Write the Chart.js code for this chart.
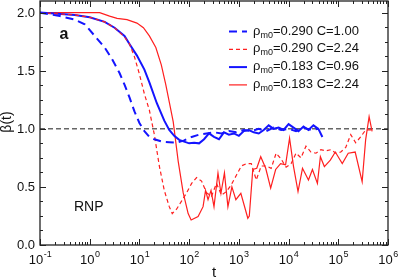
<!DOCTYPE html>
<html>
<head>
<meta charset="utf-8">
<script src="https://cdn.jsdelivr.net/npm/chart.js@4.4.1/dist/chart.umd.min.js"></script>
<style>
  html, body { margin: 0; padding: 0; background: #fff; }
</style>
</head>
<body>
<canvas id="betaChart" width="399" height="278"></canvas>
<script>
// log10(t) positions and beta(t) values
const logTBlueDash = [-1, -0.6, -0.3, -0.1, 0.1, 0.3, 0.45, 0.6, 0.7, 0.8, 0.9, 1.0, 1.1, 1.2, 1.3, 1.45, 1.6, 1.75, 1.9, 2.05, 2.2, 2.35, 2.5, 2.65, 2.8, 2.95, 3.1, 3.25, 3.4, 3.55, 3.7, 3.85, 4.0, 4.15, 4.3, 4.45, 4.6];
const betaBlueDash = [2.0, 1.97, 1.94, 1.90, 1.80, 1.70, 1.60, 1.48, 1.38, 1.27, 1.15, 1.05, 0.98, 0.93, 0.91, 0.89, 0.885, 0.88, 0.90, 0.93, 0.95, 0.96, 0.97, 0.96, 0.98, 0.97, 0.99, 0.98, 1.00, 0.98, 1.01, 0.99, 1.00, 0.98, 1.01, 0.99, 1.00];

const logTRedDash = [-1, -0.3, 0, 0.3, 0.5, 0.7, 0.8, 0.9, 1.0, 1.1, 1.2, 1.3, 1.4, 1.5, 1.6, 1.66, 1.75, 1.85, 1.95, 2.05, 2.15, 2.25, 2.35, 2.45, 2.55, 2.65, 2.75, 2.85, 2.95, 3.05, 3.15, 3.25, 3.35, 3.45, 3.55, 3.65, 3.75, 3.85, 3.95, 4.05, 4.15, 4.25, 4.35, 4.45, 4.55, 4.65, 4.75, 4.85, 4.95, 5.05, 5.15, 5.25, 5.35, 5.45, 5.55, 5.68];
const betaRedDash = [2.0, 1.98, 1.96, 1.92, 1.87, 1.79, 1.73, 1.62, 1.47, 1.30, 1.16, 0.95, 0.68, 0.47, 0.33, 0.27, 0.31, 0.38, 0.45, 0.53, 0.58, 0.55, 0.45, 0.42, 0.53, 0.43, 0.46, 0.52, 0.60, 0.68, 0.70, 0.70, 0.56, 0.68, 0.68, 0.66, 0.79, 0.74, 0.67, 0.70, 0.79, 0.75, 0.85, 0.80, 0.79, 0.82, 0.81, 0.82, 0.79, 0.80, 0.84, 0.95, 0.88, 0.93, 0.99, 0.99];

const logTBlueSolid = [-1, -0.3, 0, 0.3, 0.5, 0.7, 0.8, 0.95, 1.1, 1.2, 1.35, 1.5, 1.6, 1.7, 1.8, 1.9, 2.0, 2.1, 2.2, 2.3, 2.4, 2.5, 2.6, 2.7, 2.8, 2.9, 3.0, 3.1, 3.2, 3.3, 3.4, 3.5, 3.6, 3.7, 3.8, 3.9, 4.0, 4.1, 4.2, 4.3, 4.4, 4.5, 4.6, 4.68];
const betaBlueSolid = [2.0, 1.98, 1.96, 1.92, 1.87, 1.80, 1.73, 1.63, 1.51, 1.40, 1.22, 1.07, 0.99, 0.94, 0.905, 0.89, 0.875, 0.88, 0.875, 0.91, 0.96, 0.93, 0.91, 0.97, 0.95, 0.96, 0.94, 0.98, 0.99, 0.97, 0.96, 0.99, 1.03, 1.00, 1.01, 0.99, 1.04, 1.01, 0.98, 1.02, 0.99, 1.03, 1.00, 0.93];

const logTRedSolid = [-1, 0, 0.2, 0.4, 0.55, 0.75, 0.95, 1.08, 1.2, 1.33, 1.44, 1.53, 1.61, 1.68, 1.78, 1.88, 1.98, 2.04, 2.18, 2.28, 2.33, 2.38, 2.44, 2.5, 2.58, 2.64, 2.71, 2.78, 2.86, 2.94, 3.04, 3.18, 3.21, 3.28, 3.36, 3.44, 3.54, 3.64, 3.74, 3.84, 3.94, 4.02, 4.1, 4.19, 4.28, 4.4, 4.48, 4.58, 4.64, 4.72, 4.84, 4.94, 5.08, 5.2, 5.34, 5.48, 5.55, 5.62, 5.68];
const betaRedSolid = [2.0, 2.0, 2.0, 1.97, 1.95, 1.94, 1.91, 1.87, 1.80, 1.70, 1.55, 1.38, 1.21, 1.06, 0.72, 0.45, 0.27, 0.215, 0.245, 0.33, 0.47, 0.39, 0.47, 0.33, 0.62, 0.445, 0.62, 0.33, 0.50, 0.39, 0.445, 0.23, 0.25, 0.65, 0.66, 0.76, 0.66, 0.49, 0.65, 0.70, 0.69, 0.92, 0.675, 0.46, 0.66, 0.56, 0.65, 0.53, 0.76, 0.675, 0.73, 0.80, 0.70, 0.79, 0.80, 0.545, 0.905, 1.105, 0.977];

const refLineT = [0.1, 1e6];
const refLineBeta = [1, 1];

const xTickExps = [-1, 0, 1, 2, 3, 4, 5, 6];
const yTicks = [0, 0.5, 1, 1.5, 2];
const legendRest = ['=0.290 C=1.00', '=0.290 C=2.24', '=0.183 C=0.96', '=0.183 C=2.24'];

const FONT = "'Liberation Sans', Arial, Helvetica, sans-serif";

function toPoints(logT, beta) {
    return logT.map((lt, i) => ({ x: Math.pow(10, lt), y: beta[i] }));
}

const series = [
    { data: toPoints(logTBlueDash, betaBlueDash), color: '#1414ff', width: 2, dash: [8, 5] },
    { data: toPoints(logTRedDash, betaRedDash), color: '#ff1f1f', width: 1.2, dash: [4, 3] },
    { data: toPoints(logTBlueSolid, betaBlueSolid), color: '#1414ff', width: 2, dash: [] },
    { data: toPoints(logTRedSolid, betaRedSolid), color: '#ff1f1f', width: 1.2, dash: [] }
];

const datasets = series.map((s, i) => ({
    label: 'series' + i,
    data: s.data,
    borderColor: s.color,
    borderWidth: s.width,
    borderDash: s.dash,
    pointRadius: 0,
    fill: false,
    tension: 0,
    order: 1
}));

datasets.push({
    label: 'ref',
    data: refLineT.map((t, i) => ({ x: t, y: refLineBeta[i] })),
    borderColor: '#666666',
    borderWidth: 1.5,
    borderDash: [5, 3],
    pointRadius: 0,
    fill: false,
    order: 10
});

// frame, inward ticks, tick labels, legend and annotations
const decorPlugin = {
    id: 'decor',
    afterDatasetsDraw(chart) {
        const { ctx, chartArea: a, scales } = chart;
        const xs = scales.x, ys = scales.y;
        ctx.save();
        ctx.strokeStyle = '#222';
        ctx.lineWidth = 1.3;
        ctx.setLineDash([]);
        ctx.strokeRect(a.left, a.top, a.right - a.left, a.bottom - a.top);

        ctx.lineWidth = 1;
        ctx.beginPath();
        xTickExps.forEach(e => {
            const px = Math.round(xs.getPixelForValue(Math.pow(10, e))) + 0.5;
            ctx.moveTo(px, a.bottom); ctx.lineTo(px, a.bottom - 6);
            ctx.moveTo(px, a.top); ctx.lineTo(px, a.top + 6);
            if (e < 6) {
                for (let k = 2; k <= 9; k++) {
                    const mx = Math.round(xs.getPixelForValue(k * Math.pow(10, e))) + 0.5;
                    ctx.moveTo(mx, a.bottom); ctx.lineTo(mx, a.bottom - 3);
                    ctx.moveTo(mx, a.top); ctx.lineTo(mx, a.top + 3);
                }
            }
        });
        for (let v = 0; v <= 2.1; v += 0.125) {
            const py = Math.round(ys.getPixelForValue(v)) + 0.5;
            const major = Math.abs(v * 2 - Math.round(v * 2)) < 1e-6;
            const len = major ? 6 : 3;
            ctx.moveTo(a.left, py); ctx.lineTo(a.left + len, py);
            ctx.moveTo(a.right, py); ctx.lineTo(a.right - len, py);
        }
        ctx.stroke();

        ctx.fillStyle = '#111';
        ctx.font = '13px ' + FONT;
        ctx.textAlign = 'right';
        ctx.textBaseline = 'middle';
        yTicks.forEach(v => {
            ctx.fillText(v.toFixed(1), a.left - 5, ys.getPixelForValue(v) + 0.5);
        });

        ctx.textBaseline = 'alphabetic';
        ctx.textAlign = 'left';
        xTickExps.forEach(e => {
            const px = xs.getPixelForValue(Math.pow(10, e));
            ctx.font = '13px ' + FONT;
            const w1 = ctx.measureText('10').width;
            ctx.font = '9px ' + FONT;
            const w2 = ctx.measureText(String(e)).width;
            const x0 = px - (w1 + w2) / 2;
            ctx.font = '13px ' + FONT;
            ctx.fillText('10', x0, a.bottom + 18.5);
            ctx.font = '9px ' + FONT;
            ctx.fillText(String(e), x0 + w1 + 0.5, a.bottom + 11.5);
        });

        ctx.font = '15px ' + FONT;
        ctx.textAlign = 'center';
        ctx.fillText('t', (a.left + a.right) / 2, a.bottom + 31.5);

        ctx.save();
        ctx.translate(7.5, 122);
        ctx.rotate(-Math.PI / 2);
        ctx.textBaseline = 'middle';
        ctx.font = '14px ' + FONT;
        ctx.fillText('β(t)', 0, 0);
        ctx.restore();

        ctx.textAlign = 'left';
        ctx.font = 'bold 16px ' + FONT;
        ctx.fillText('a', 59.5, 39);
        ctx.font = '14px ' + FONT;
        ctx.fillText('RNP', 74, 211);

        // legend
        legendRest.forEach((txt, i) => {
            const s = series[i];
            const base = 34.5 + i * 17.8;
            ctx.strokeStyle = s.color;
            ctx.lineWidth = s.width;
            ctx.setLineDash(s.dash);
            ctx.beginPath();
            ctx.moveTo(229, base - 3);
            ctx.lineTo(247, base - 3);
            ctx.stroke();
            ctx.setLineDash([]);
            ctx.fillStyle = '#111';
            ctx.font = '13px ' + FONT;
            ctx.fillText('ρ', 253, base);
            let x = 253 + ctx.measureText('ρ').width;
            ctx.font = '9px ' + FONT;
            ctx.fillText('m0', x, base + 3);
            x += ctx.measureText('m0').width;
            ctx.font = '13px ' + FONT;
            ctx.fillText(txt, x, base);
        });
        ctx.restore();
    }
};

new Chart(document.getElementById('betaChart').getContext('2d'), {
    type: 'line',
    data: { datasets },
    options: {
        responsive: false,
        animation: false,
        devicePixelRatio: 1,
        layout: { padding: { left: 40, right: 11, top: 1, bottom: 33 } },
        plugins: { legend: { display: false }, tooltip: { enabled: false } },
        scales: {
            x: { type: 'logarithmic', min: 0.1, max: 1e6, display: false },
            y: { type: 'linear', min: 0, max: 2.1, display: false }
        }
    },
    plugins: [decorPlugin]
});
</script>
</body>
</html>
